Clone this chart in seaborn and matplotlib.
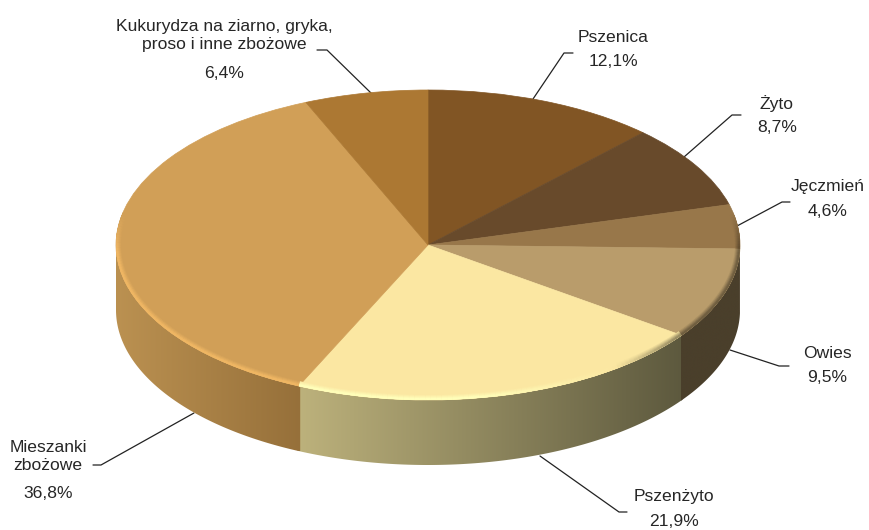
import numpy as np
import seaborn as sns
import matplotlib.pyplot as plt
from matplotlib.collections import LineCollection
from matplotlib.colors import to_rgb
from matplotlib.patches import Circle, Polygon

categories = [
    "Pszenica",
    "Żyto",
    "Jęczmień",
    "Owies",
    "Pszenżyto",
    "Mieszanki\nzbożowe",
    "Kukurydza na ziarno, gryka,\nproso i inne zbożowe",
]
shares = [12.1, 8.7, 4.6, 9.5, 21.9, 36.8, 6.4]
top_colors = ["#815524", "#684a2b", "#98774a", "#b99c6b", "#fbe7a2", "#d19f57", "#ac7833"]
# side wall colours, left end and right end of the visible arc
side_left = ["#815524", "#684a2b", "#4a3f2b", "#4a3f2b", "#bdb27c", "#bb9151", "#ac7833"]
side_right = ["#815524", "#684a2b", "#4a3f2b", "#4a3f2b", "#5d593e", "#96703a", "#ac7833"]

W, H = 869, 530
CX, CY = 428, 245
RX, RY = 312, 155
DEPTH = 65 / RY

# label centres and leader lines, in picture pixels
name_pos = [(613, 37), (777, 104), (828, 187), (827, 354), (674, 497), (48, 456), (224, 35)]
value_pos = [(613, 61), (777, 127), (828, 212), (827, 378), (674, 521), (48, 493), (224, 73)]
leaders = [
    [(533, 99), (564, 53), (573, 53)],
    [(684, 157), (732, 115), (741, 115)],
    [(737, 226), (782, 202), (790, 202)],
    [(730, 350), (779, 366), (789, 366)],
    [(540, 456), (619, 512), (627, 512)],
    [(194, 413), (101, 465), (93, 465)],
    [(371, 93), (327, 50), (317, 50)],
]

sns.set_theme(style="white")
plt.rcParams["font.family"] = ["Liberation Sans", "DejaVu Sans"]


def lerp(a, b, t):
    return tuple(np.array(a) + (np.array(b) - np.array(a)) * t)


def rim_color(top, theta):
    # bevel catches the light on the left and front, falls dark on the right
    x = np.cos(np.radians(theta))
    s = np.sin(np.radians(theta))
    top = np.array(to_rgb(top))
    light = np.clip(top * 1.15, 0, 1)
    dark = top * 0.6
    if x < 0.15:
        col = light
    elif x < 0.6:
        col = lerp(light, top, (x - 0.15) / 0.45)
    elif x < 0.8:
        col = lerp(top, dark, (x - 0.6) / 0.2)
    else:
        col = dark
    fade = np.clip((0.2 - s) / 0.25, 0, 1)
    return lerp(top, col, fade)


fig, ax = plt.subplots(figsize=(W / 100, H / 100), dpi=100)
fig.subplots_adjust(left=0, right=1, top=1, bottom=0)

wedges, _ = ax.pie(
    shares,
    colors=top_colors,
    startangle=90,
    counterclock=False,
    radius=1,
    wedgeprops={"zorder": 2},
)
# own-colour edge hides the hairlines between slices
for wedge, color in zip(wedges, top_colors):
    wedge.set_edgecolor(color)
    wedge.set_linewidth(0.5)

# side wall: a horizontal gradient clipped to the visible arc of each slice
for i, wedge in enumerate(wedges):
    angles = np.linspace(wedge.theta1 - 0.3, wedge.theta2 + 0.3, 200)
    angles = angles[np.sin(np.radians(angles)) <= 0.001]
    if len(angles) < 2:
        continue
    xs = np.cos(np.radians(angles))
    ys = np.sin(np.radians(angles))
    outline = np.column_stack(
        [np.r_[xs, xs[::-1]], np.r_[ys, ys[::-1] - DEPTH]]
    )
    gradient = np.array(
        [[lerp(to_rgb(side_left[i]), to_rgb(side_right[i]), t) for t in np.linspace(0, 1, 256)]]
    )
    image = ax.imshow(
        gradient,
        extent=(xs.min(), xs.max(), ys.min() - DEPTH, ys.max() + 0.02),
        aspect="auto",
        interpolation="bilinear",
        zorder=1 + 0.01 * abs(np.cos(np.radians(angles.mean()))),
    )
    image.set_clip_path(Polygon(outline, transform=ax.transData))

ax.set_aspect("auto")
ax.set_xlim(-CX / RX, (W - CX) / RX)
ax.set_ylim(-(H - CY) / RY, CY / RY)
ax.axis("off")

# bevel along the top edge: nested strokes, half of each clipped off by the disc
stroke_px = [10, 8, 6, 4, 2]
stroke_weights = [0.2, 0.45, 0.7, 0.95, 1.0]
disc = Circle((0, 0), 1, transform=ax.transData)
for px_width, weight in zip(stroke_px, stroke_weights):
    for i, wedge in enumerate(wedges):
        starts = np.arange(wedge.theta1, wedge.theta2, 1.0)
        segments, seg_colors = [], []
        for theta in starts:
            theta2 = min(theta + 1.0, wedge.theta2)
            mid = (theta + theta2) / 2
            if np.sin(np.radians(mid)) > 0.2:
                continue
            t = np.radians([theta, theta2])
            segments.append(np.column_stack([np.cos(t), np.sin(t)]))
            seg_colors.append(
                lerp(to_rgb(top_colors[i]), rim_color(top_colors[i], mid), weight)
            )
        if segments:
            rim = LineCollection(
                segments,
                colors=seg_colors,
                linewidths=px_width * 0.72,
                capstyle="butt",
                zorder=3,
            )
            ax.add_collection(rim, autolim=False)
            rim.set_clip_path(disc)

for line in leaders:
    px = np.array(line, dtype=float)
    ax.plot(
        px[:, 0] / W,
        1 - px[:, 1] / H,
        color="#222222",
        linewidth=0.9,
        transform=fig.transFigure,
        zorder=0.5,
        clip_on=False,
    )

for name, share, npos, vpos in zip(categories, shares, name_pos, value_pos):
    ax.text(
        npos[0] / W,
        1 - npos[1] / H,
        name,
        transform=fig.transFigure,
        ha="center",
        va="center",
        fontsize=12.6,
        color="#262626",
        linespacing=1.25,
    )
    ax.text(
        vpos[0] / W,
        1 - vpos[1] / H,
        f"{share:.1f}%".replace(".", ","),
        transform=fig.transFigure,
        ha="center",
        va="center",
        fontsize=12.6,
        color="#262626",
    )

fig.savefig("out.png", dpi=100, facecolor="white")
plt.close(fig)
